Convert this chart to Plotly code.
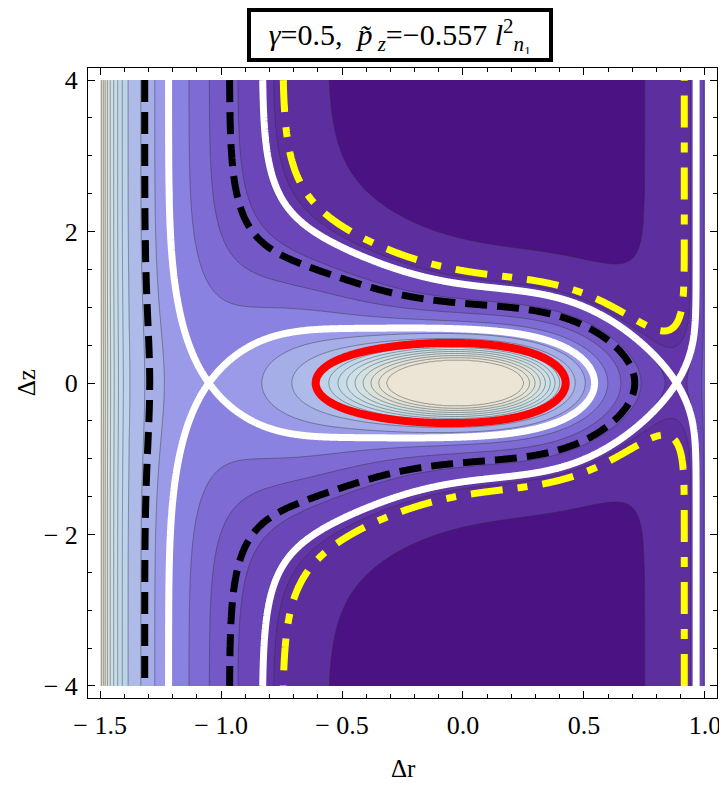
import numpy as np
import plotly.graph_objects as go

# panel parameters shown in the title
gamma = 0.5
pz_tilde = -0.557

# effective potential: far field (large |dz|)
far_curv = 4.13
far_center = 0.10
far_offset = -0.80
wall_left_amp, wall_left_pos = 0.0040, -1.55
wall_right_amp, wall_right_pos = 0.0046, 1.06
# ridge along dz = 0
ridge_height = 6.25
ridge_center = -0.06
ridge_width_left = 0.92
ridge_width_right = 0.76
ridge_b2 = [2.85, -1.2, -1.5]
# central hump
peak_height = 7.1
peak_center = 0.0
peak_s2 = 0.25
peak_zscale = 1.25

# filled contour levels and band colours (low -> high)
levels = [1.0, 2.45, 2.87, 3.6, 4.67, 5.5, 6.4, 7.05, 7.75, 8.45,
          8.8, 9.1, 9.4, 9.7, 10.0, 10.3, 10.6, 10.9]
band_colors = ["#4b1283", "#5c2e9e", "#6236a8", "#6a46b8", "#7358c6",
               "#7e6cd4", "#8a82e0", "#9a9ae8", "#a6aee8", "#aebbe9",
               "#bcd3ea", "#c2d8ea", "#c7dce9", "#cddfe7", "#d3e1e3",
               "#dae2de", "#e1e3d9", "#e6e4d6", "#ece5d5"]

# highlighted energy curves
yellow_level = 2.16
black_level = 3.9
black_left_level = 7.55
red_level = 8.4

# tick labels
x_ticks = [-1.5, -1.0, -0.5, 0.0, 0.5, 1.0]
x_labels = ["− 1.5", "− 1.0", "− 0.5", "0.0", "0.5", "1.0"]
y_ticks = [-4, -2, 0, 2, 4]
y_labels = ["− 4", "− 2", "0", "2", "4"]


def potential(r, z):
    far = (far_curv * (r - far_center) ** 2 + far_offset
           + wall_left_amp / (r - wall_left_pos) ** 2
           + wall_right_amp / (wall_right_pos - r) ** 2)
    w = np.where(r < ridge_center, ridge_width_left, ridge_width_right)
    ridge = ridge_height * np.exp(-((r - ridge_center) / w) ** 4)
    b2 = np.clip(ridge_b2[0] + ridge_b2[1] * r + ridge_b2[2] * r ** 2, 0.3, None)
    hump = peak_height * np.exp(-((r - peak_center) ** 2 + (z / peak_zscale) ** 2) / peak_s2)
    return far + ridge * np.exp(-z ** 2 / b2) + hump


r = np.linspace(-1.5, 1.0, 501)
z = np.linspace(-4.0, 4.0, 801)
R, Z = np.meshgrid(r, z)
U = potential(R, Z)

# separatrix levels = values at the two X points on dz = 0
row0 = U[len(z) // 2]
white_left = row0[(r > -1.3) & (r < -0.6)].min()
white_right = row0[(r > 0.6) & (r < 0.99)].min()

# map the uneven levels onto integer steps for the filled plot
N = len(levels)
lev_ext = np.concatenate([[U.min() - 1], levels, [U.max() + 1]])
idx = np.interp(U, lev_ext, np.arange(len(lev_ext)))
cscale = [[k / N, c] for k, c in enumerate(band_colors)]

fig = go.Figure()
fig.add_trace(go.Contour(
    x=r, y=z, z=idx, autocontour=False,
    contours=dict(start=1, end=N, size=1, coloring="fill"),
    colorscale=cscale, showscale=False, hoverinfo="skip",
    line=dict(color="rgba(45,45,45,0.55)", width=0.8)))


def curve(mask, level, color, width, dash="solid"):
    return go.Contour(
        x=r[mask], y=z, z=U[:, mask], autocontour=False,
        contours=dict(start=level, end=level, size=1, coloring="none"),
        line=dict(color=color, width=width, dash=dash),
        showscale=False, hoverinfo="skip")


all_r = np.ones_like(r, dtype=bool)
fig.add_trace(curve(all_r, white_right, "white", 7))
fig.add_trace(curve(all_r, white_left, "white", 7))
fig.add_trace(curve(r < 0.95, black_level, "black", 7, "22px,10px"))
fig.add_trace(curve(r < -1.15, black_left_level, "black", 7, "22px,10px"))
fig.add_trace(curve(all_r, yellow_level, "#ffff00", 7, "32px,15px,10px,15px"))
fig.add_trace(curve(r > -1.0, red_level, "#ff0000", 8))

serif = "Liberation Serif, Times New Roman, serif"
axis = dict(showgrid=False, zeroline=False, showline=True, linecolor="black",
            linewidth=1, mirror="allticks", ticks="inside", ticklen=7,
            tickcolor="black", ticklabelstandoff=4,
            tickfont=dict(family=serif, size=26, color="black"))

fig.update_layout(
    width=727, height=786,
    margin=dict(l=80, r=18, t=60, b=96),
    paper_bgcolor="white", plot_bgcolor="white",
    showlegend=False,
    xaxis=dict(axis, range=[-1.55, 1.05], tickvals=x_ticks, ticktext=x_labels,
               minor=dict(ticks="inside", ticklen=4, dtick=0.1, tickcolor="black")),
    yaxis=dict(axis, range=[-4.16, 4.16], tickvals=y_ticks, ticktext=y_labels,
               minor=dict(ticks="inside", ticklen=4, dtick=0.5, tickcolor="black")),
)

title = ("<i>γ</i>=%.1f,  <i>p̃</i><sub> <i>z</i></sub>=−%.3f <i>l</i><sup>2</sup><sub><i>n</i>₁</sub>"
         % (gamma, abs(pz_tilde)))
fig.add_annotation(text=title, xref="paper", yref="paper", x=0.496, y=1.0524,
                   xanchor="center", yanchor="middle", showarrow=False,
                   width=290, height=38, align="center", valign="middle",
                   font=dict(family=serif, size=30, color="black"),
                   bordercolor="black", borderwidth=4, borderpad=4, bgcolor="white")
fig.add_annotation(text="Δr", xref="paper", yref="paper", x=0.501, y=-0.112,
                   xanchor="center", yanchor="middle", showarrow=False,
                   font=dict(family=serif, size=25, color="black"))
fig.add_annotation(text="Δz", xref="paper", yref="paper", x=-0.098, y=0.5,
                   xanchor="center", yanchor="middle", textangle=-90, showarrow=False,
                   font=dict(family=serif, size=25, color="black"))

fig.write_html("out.html")
